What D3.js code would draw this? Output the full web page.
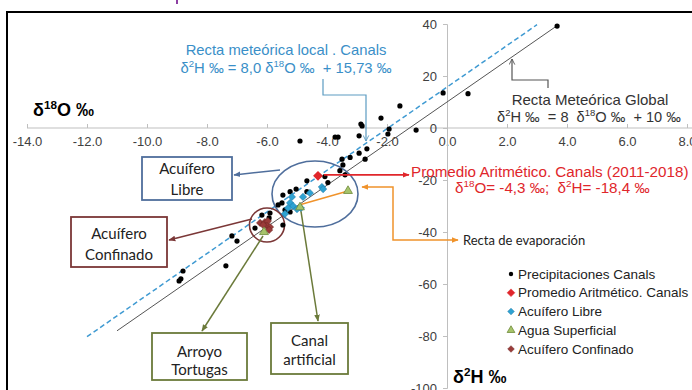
<!DOCTYPE html>
<html>
<head>
<meta charset="utf-8">
<script src="https://cdn.jsdelivr.net/npm/d3@7"></script>
<style>
  body { margin: 0; background: #fff; }
  svg { display: block; }
  text { white-space: pre; }
</style>
</head>
<body>
<div id="chart"></div>
<script>
// --- datos ---
// Precipitaciones Canals (δ18O, δ2H)
const precipO = [3.67, -0.13, 0.7, -1.57, -2.2, -2.87, -2.83, -1.93, -1.97, -1.03, -4.9, -3.73, -3.63, -2.93,
  -2.67, -2.93, -3.23, -3.5, -2.73, -3.47, -3.57, -3.4, -4.07, -3.97, -4.67, -4.67, -5.03, -5.23, -5.47,
  -5.5, -5.63, -5.4, -5.23, -5.9, -6.17, -5.93, -5.47, -6.4, -7.17, -7.0, -7.37, -8.8, -8.87, -8.93];
const precipH = [39.2, 13.5, 13.2, 8.5, 3.8, 1.5, 0.8, -0.4, -2.3, -0.8, -5.0, -3.5, -3.5, -3.0,
  -8.0, -9.7, -11.3, -12.0, -12.0, -14.2, -16.4, -18.0, -18.7, -21.0, -20.3, -24.5, -23.5, -24.5, -25.8,
  -28.8, -29.6, -31.5, -32.3, -32.7, -33.5, -34.6, -37.3, -38.5, -41.5, -43.5, -53.0, -55.0, -58.0, -58.8];

// Promedio aritmético Canals
const promedioO = [-4.3];
const promedioH = [-18.4];

// Acuífero libre
const libreO = [-4.17, -4.13, -4.57, -4.8, -4.87, -5.17, -5.23, -5.13, -5.3, -5.4, -5.0];
const libreH = [-22.7, -23.5, -25.0, -26.5, -30.8, -26.5, -28.8, -30.0, -30.8, -33.0, -31.2];

// Agua superficial
const superfO = [-3.3, -4.9, -6.1];
const superfH = [-24.2, -30.5, -40.0];

// Acuífero confinado
const confO = [-6.23, -6.07, -5.97, -6.0, -5.9, -6.13, -5.93];
const confH = [-36.5, -36.2, -35.8, -37.7, -38.1, -37.3, -39.2];

// rectas
const lmwlRange = [-12, 3];      // δ2H = 8,0 δ18O + 15,73
const gmwlRange = [-11, 3.67];   // δ2H = 8 δ18O + 10
const evapO = [-4.9, -3.3];
const evapH = [-29.5, -24.2];

const xTicks = [-14, -12, -10, -8, -6, -4, -2, 0, 2, 4, 6, 8];
const yTicks = [40, 20, 0, -20, -40, -60, -80, -100];

const legendItems = ["Precipitaciones Canals", "Promedio Aritmético. Canals", "Acuífero Libre",
  "Agua Superficial", "Acuífero Confinado"];

// --- svg ---
const W = 692, H = 390;
const svg = d3.select("#chart").append("svg").attr("width", W).attr("height", H);
const font = "'Liberation Sans', Arial, sans-serif";
const boxFont = "Lato, 'Open Sans', sans-serif";

const x = d3.scaleLinear().domain([-14, 8]).range([27, 687]);
const y = d3.scaleLinear().domain([-100, 40]).range([388, 24]);

// marco
svg.append("rect").attr("x", 7).attr("y", 12).attr("width", 720).attr("height", 420)
  .attr("fill", "none").attr("stroke", "#000").attr("stroke-width", 2);
svg.append("line").attr("x1", 177).attr("x2", 177).attr("y1", 0).attr("y2", 4)
  .attr("stroke", "#8d3fa3").attr("stroke-width", 2);

// flechas
const defs = svg.append("defs");
function marker(id, color, open) {
  const m = defs.append("marker").attr("id", id).attr("viewBox", "0 0 10 10")
    .attr("refX", 9).attr("refY", 5).attr("markerWidth", 7).attr("markerHeight", 7)
    .attr("markerUnits", "userSpaceOnUse").attr("orient", "auto-start-reverse");
  if (open) {
    m.append("path").attr("d", "M1,1 L9,5 L1,9").attr("fill", "none").attr("stroke", color).attr("stroke-width", 1.3);
  } else {
    m.append("path").attr("d", "M0,1 L10,5 L0,9 Z").attr("fill", color);
  }
}
marker("aBlue", "#4f6e9c");
marker("aRed", "#e0262b");
marker("aDark", "#7b3737");
marker("aOlive", "#6b7a3a");
marker("aOrange", "#f0932b");
marker("aLight", "#5c9cc2", true);
marker("aGray", "#555", true);

// ejes
const xAxis = svg.append("g").attr("transform", `translate(0,${y(0)})`)
  .call(d3.axisBottom(x).tickValues(xTicks).tickFormat(d3.format(".1f")).tickSize(-4).tickPadding(9));
const yAxis = svg.append("g").attr("transform", `translate(${x(0)},0)`)
  .call(d3.axisLeft(y).tickValues(yTicks).tickSize(4).tickPadding(6));
[xAxis, yAxis].forEach(g => {
  g.select(".domain").attr("stroke", "#bfbfbf");
  g.selectAll(".tick line").attr("stroke", "#bfbfbf");
  g.selectAll(".tick text").attr("fill", "#404040").style("font-family", font).style("font-size", "13px");
});
xAxis.select(".domain").attr("d", `M${x(-14)},0H${W}`);
xAxis.selectAll(".tick text").text(d => d3.format(".1f")(d).replace("−", "-"));
yAxis.selectAll(".tick text").text(d => String(d));

// rectas meteóricas
svg.append("line")
  .attr("x1", x(lmwlRange[0])).attr("y1", y(8.0 * lmwlRange[0] + 15.73))
  .attr("x2", x(lmwlRange[1])).attr("y2", y(8.0 * lmwlRange[1] + 15.73))
  .attr("stroke", "#3f9ad2").attr("stroke-width", 1.5).attr("stroke-dasharray", "5,3");
svg.append("line")
  .attr("x1", x(gmwlRange[0])).attr("y1", y(8 * gmwlRange[0] + 10))
  .attr("x2", x(gmwlRange[1])).attr("y2", y(8 * gmwlRange[1] + 10))
  .attr("stroke", "#555").attr("stroke-width", 1);

// recta de evaporación
svg.append("line")
  .attr("x1", x(evapO[0])).attr("y1", y(evapH[0]))
  .attr("x2", x(evapO[1])).attr("y2", y(evapH[1]))
  .attr("stroke", "#f0932b").attr("stroke-width", 1.6);

// elipses
const libreCenter = [-4.4, -25.4], confCenter = [-6.0, -37.3];
svg.append("ellipse").attr("cx", x(libreCenter[0])).attr("cy", y(libreCenter[1]))
  .attr("rx", 43).attr("ry", 33).attr("fill", "none").attr("stroke", "#4f6e9c").attr("stroke-width", 1.6);
svg.append("ellipse").attr("cx", x(confCenter[0])).attr("cy", y(confCenter[1]))
  .attr("rx", 17.5).attr("ry", 17).attr("fill", "none").attr("stroke", "#7b3737").attr("stroke-width", 1.6);

// puntos
const diamond = d3.symbol().type(d3.symbolSquare);
function zip(a, b) { return a.map((v, i) => [v, b[i]]); }

svg.append("g").selectAll("circle").data(zip(precipO, precipH)).join("circle")
  .attr("cx", d => x(d[0])).attr("cy", d => y(d[1])).attr("r", 2.6).attr("fill", "#000");

svg.append("g").selectAll("path").data(zip(libreO, libreH)).join("path")
  .attr("d", diamond.size(26)).attr("transform", d => `translate(${x(d[0])},${y(d[1])}) rotate(45)`)
  .attr("fill", "#2ea2d2").attr("stroke", "#1c7aa8").attr("stroke-width", 0.6);

svg.append("g").selectAll("path").data(zip(confO, confH)).join("path")
  .attr("d", diamond.size(26)).attr("transform", d => `translate(${x(d[0])},${y(d[1])}) rotate(45)`)
  .attr("fill", "#9a3b39").attr("stroke", "#6e2625").attr("stroke-width", 0.6);

svg.append("g").selectAll("path").data(zip(superfO, superfH)).join("path")
  .attr("d", d3.symbol().type(d3.symbolTriangle).size(34))
  .attr("transform", d => `translate(${x(d[0])},${y(d[1])})`)
  .attr("fill", "#a6c46a").attr("stroke", "#6f8a3a").attr("stroke-width", 0.8);

svg.append("g").selectAll("path").data(zip(promedioO, promedioH)).join("path")
  .attr("d", diamond.size(48)).attr("transform", d => `translate(${x(d[0])},${y(d[1])}) rotate(45)`)
  .attr("fill", "#e0262b");

// texto con superíndices
function rich(x0, y0, parts, size, color, anchor, weight) {
  const t = svg.append("text").attr("x", x0).attr("y", y0)
    .attr("text-anchor", anchor || "start").attr("fill", color)
    .style("font-family", font).style("font-size", size + "px").style("font-weight", weight || "normal");
  let up = false;
  parts.forEach(p => {
    const sup = Array.isArray(p);
    const s = t.append("tspan").text(sup ? p[0] : p);
    if (sup) { s.style("font-size", (size * 0.65) + "px").attr("dy", -size * 0.38); up = true; }
    else if (up) { s.attr("dy", size * 0.38); up = false; }
  });
  return t;
}

// recta meteórica local
rich(286, 55, ["Recta meteórica local . Canals"], 14.8, "#3a8fc8", "middle");
rich(286, 73, ["δ", ["2"], "H ‰ = 8,0 δ", ["18"], "O ‰  + 15,73 ‰"], 14.8, "#3a8fc8", "middle");
svg.append("path").attr("d", "M323,79 V95 H366 V141").attr("fill", "none")
  .attr("stroke", "#5c9cc2").attr("stroke-width", 1.2).attr("marker-end", "url(#aLight)");

// recta meteórica global
rich(590, 105, ["Recta Meteórica Global"], 15, "#333", "middle");
rich(589, 122, ["δ", ["2"], "H ‰  = 8  δ", ["18"], "O ‰  + 10 ‰"], 14.6, "#333", "middle");
svg.append("path").attr("d", "M548,88 V80 H512 V59").attr("fill", "none")
  .attr("stroke", "#555").attr("stroke-width", 1.2).attr("marker-end", "url(#aGray)");

// promedio
svg.append("line").attr("x1", x(promedioO[0]) + 6).attr("y1", y(promedioH[0]) - 1)
  .attr("x2", 409).attr("y2", y(promedioH[0]) - 1)
  .attr("stroke", "#e0262b").attr("stroke-width", 1.6).attr("marker-end", "url(#aRed)");
rich(411, 177, ["Promedio Aritmético. Canals (2011-2018)"], 15.2, "#e0262b", "start");
rich(455, 193, ["δ", ["18"], "O= -4,3 ‰;  δ", ["2"], "H= -18,4 ‰"], 15.2, "#e0262b", "start");

// evaporación
svg.append("path").attr("d", "M362,187 H393 V240 H458").attr("fill", "none")
  .attr("stroke", "#f0932b").attr("stroke-width", 1.5)
  .attr("marker-start", "url(#aOrange)").attr("marker-end", "url(#aOrange)");
svg.append("text").attr("x", 463).attr("y", 240).attr("dominant-baseline", "central")
  .style("font-family", boxFont).style("font-size", "13px").attr("fill", "#222").text("Recta de evaporación");

// cajas
function box(x0, y0, w, h, color, lines, cy) {
  svg.append("rect").attr("x", x0).attr("y", y0).attr("width", w).attr("height", h)
    .attr("fill", "#fff").attr("stroke", color).attr("stroke-width", 1.8);
  lines.forEach((l, i) => {
    svg.append("text").attr("x", x0 + w / 2).attr("y", cy[i]).attr("text-anchor", "middle")
      .attr("dominant-baseline", "central").style("font-family", boxFont).style("font-size", "15px")
      .attr("fill", "#222").text(l);
  });
}
box(142, 157, 90, 43, "#4f6e9c", ["Acuífero", "Libre"], [168, 189]);
box(71, 217, 96, 50, "#7b3737", ["Acuífero", "Confinado"], [233, 254]);
box(152, 333, 95, 47, "#6b7a3a", ["Arroyo", "Tortugas"], [351, 369]);
box(271, 323, 77, 51, "#6b7a3a", ["Canal", "artificial"], [340, 359]);

function arrow(x1, y1, x2, y2, color, mk) {
  svg.append("line").attr("x1", x1).attr("y1", y1).attr("x2", x2).attr("y2", y2)
    .attr("stroke", color).attr("stroke-width", 1.5).attr("marker-end", `url(#${mk})`);
}
arrow(280, 170, 234, 175, "#4f6e9c", "aBlue");
arrow(252, 219, 169, 240, "#7b3737", "aDark");
arrow(x(superfO[2]) - 1, y(superfH[2]) + 4, 202, 331, "#6b7a3a", "aOlive");
arrow(x(superfO[1]) + 1, y(superfH[1]) + 4, 318, 321, "#6b7a3a", "aOlive");

// etiquetas de ejes
rich(33, 116, ["δ", ["18"], "O ‰"], 18, "#000", "start", "bold");
rich(453, 383, ["δ", ["2"], "H ‰"], 18, "#000", "start", "bold");

// leyenda
const legendY = d3.scalePoint().domain(legendItems).range([274, 349]);
const lg = svg.append("g");
legendItems.forEach((name, i) => {
  const cy = legendY(name), cx = 511;
  if (i === 0) lg.append("circle").attr("cx", cx).attr("cy", cy).attr("r", 2.2).attr("fill", "#000");
  else if (i === 3) lg.append("path").attr("d", d3.symbol().type(d3.symbolTriangle).size(26))
    .attr("transform", `translate(${cx},${cy})`).attr("fill", "#a6c46a").attr("stroke", "#6f8a3a").attr("stroke-width", 0.8);
  else {
    const c = i === 1 ? ["#e0262b", "#e0262b"] : i === 2 ? ["#2ea2d2", "#1c7aa8"] : ["#9a3b39", "#6e2625"];
    lg.append("path").attr("d", diamond.size(i === 1 ? 30 : 22))
      .attr("transform", `translate(${cx},${cy}) rotate(45)`).attr("fill", c[0]).attr("stroke", c[1]).attr("stroke-width", 0.5);
  }
  lg.append("text").attr("x", 518).attr("y", cy).attr("dominant-baseline", "central")
    .style("font-family", font).style("font-size", "13.5px").attr("fill", "#222").text(name);
});
</script>
</body>
</html>
